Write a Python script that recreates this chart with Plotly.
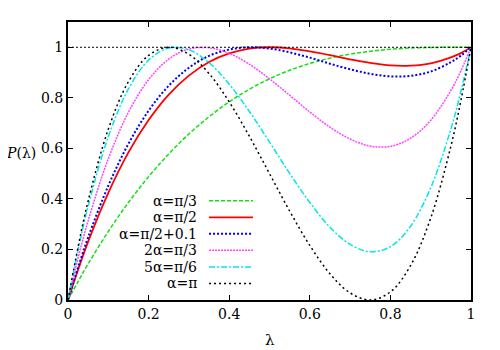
import plotly.graph_objects as go

# lambda grid and P(lambda) values
lam = [0, 0.025, 0.05, 0.1, 0.15, 0.2, 0.25, 0.3, 0.35, 0.4, 0.45, 0.5,
       0.55, 0.6, 0.65, 0.7, 0.75, 0.8, 0.85, 0.9, 0.95, 0.975, 1]

p_pi3 = [0, 0.073, 0.143, 0.271, 0.386, 0.488, 0.578, 0.657, 0.725, 0.784, 0.834, 0.875,
         0.909, 0.936, 0.957, 0.973, 0.984, 0.992, 0.997, 0.999, 1.0, 1.0, 1.0]
p_pi2 = [0, 0.120, 0.231, 0.424, 0.584, 0.712, 0.813, 0.888, 0.942, 0.976, 0.995, 1.0,
         0.996, 0.984, 0.969, 0.952, 0.938, 0.928, 0.927, 0.936, 0.960, 0.977, 1.0]
p_pi2b = [0, 0.129, 0.248, 0.452, 0.618, 0.749, 0.848, 0.919, 0.966, 0.991, 1.0, 0.995,
          0.980, 0.959, 0.935, 0.913, 0.895, 0.885, 0.887, 0.904, 0.941, 0.967, 1.0]
p_2pi3 = [0, 0.166, 0.314, 0.559, 0.743, 0.872, 0.953, 0.993, 0.998, 0.976, 0.933, 0.875,
          0.810, 0.744, 0.684, 0.637, 0.609, 0.608, 0.640, 0.711, 0.829, 0.907, 1.0]
p_5pi6 = [0, 0.198, 0.372, 0.646, 0.835, 0.949, 0.997, 0.990, 0.939, 0.854, 0.746, 0.625,
          0.501, 0.386, 0.288, 0.220, 0.191, 0.211, 0.292, 0.444, 0.676, 0.826, 1.0]
p_pi = [0, 0.210, 0.392, 0.676, 0.864, 0.968, 1.0, 0.972, 0.896, 0.784, 0.648, 0.500,
        0.352, 0.216, 0.104, 0.028, 0.0, 0.032, 0.136, 0.324, 0.608, 0.790, 1.0]

labels = ['α=π/3', 'α=π/2', 'α=π/2+0.1', '2α=π/3', '5α=π/6', 'α=π']
series = [p_pi3, p_pi2, p_pi2b, p_2pi3, p_5pi6, p_pi]
colors = ['#11e011', '#ff0000', '#0000ee', '#ff44ff', '#00e5e5', '#000000']
dashes = ['4px,2px', 'solid', '2px,2px', '2px,1px', '6px,2px,2px,2px', '2px,3px']
widths = [1.5, 1.8, 2, 1.5, 1.5, 1.5]

xticks = [0, 0.2, 0.4, 0.6, 0.8, 1]
yticks = [0, 0.2, 0.4, 0.6, 0.8, 1]
unity = 1.0

font = 'DejaVu Serif'

fig = go.Figure()

fig.add_hline(y=unity, line=dict(color='black', width=1, dash='2px,2px'))

for lab, ys, c, d, w in zip(labels, series, colors, dashes, widths):
    fig.add_trace(go.Scatter(x=lam, y=ys, mode='lines', name=lab,
                             line=dict(color=c, dash=d, width=w, shape='spline'),
                             showlegend=False))

# gnuplot-style key: right aligned text, sample line on the right
annotations = []
shapes = []
row_y = [0.357, 0.2975, 0.238, 0.1786, 0.119, 0.0596]
for lab, c, d, w, ry in zip(labels, colors, dashes, widths, row_y):
    annotations.append(dict(x=0.325, y=ry, xref='paper', yref='paper', text=lab,
                            showarrow=False, xanchor='right', yanchor='middle',
                            font=dict(family=font, size=14, color='black')))
    shapes.append(dict(type='line', xref='paper', yref='paper', x0=0.35, x1=0.459,
                       y0=ry, y1=ry, line=dict(color=c, dash=d, width=w)))

annotations.append(dict(x=0.5, y=-0.143, xref='paper', yref='paper', text='λ',
                        showarrow=False, xanchor='center', yanchor='middle',
                        font=dict(family=font, size=15, color='black')))
annotations.append(dict(x=-0.075, y=0.53, xref='paper', yref='paper', text='<i>P</i>(λ)',
                        showarrow=False, xanchor='right', yanchor='middle',
                        font=dict(family=font, size=14, color='black')))

# page body has an 8px margin, so the figure is a bit smaller than the window
fig.update_layout(
    width=492, height=342,
    margin=dict(l=60, r=29, t=12, b=50),
    plot_bgcolor='white', paper_bgcolor='white',
    font=dict(family=font, size=14, color='black'),
    annotations=annotations,
)
for s in shapes:
    fig.add_shape(s)

fig.update_xaxes(range=[0, 1], tickvals=xticks, ticktext=['0', '0.2', '0.4', '0.6', '0.8', '1'],
                 showgrid=False, zeroline=False, showline=True, linecolor='black', linewidth=2,
                 mirror='ticks', ticks='inside', ticklen=5, tickcolor='black')
fig.update_yaxes(range=[0, 1.1], tickvals=yticks, ticktext=['0', '0.2', '0.4', '0.6', '0.8', '1'],
                 showgrid=False, zeroline=False, showline=True, linecolor='black', linewidth=2,
                 mirror='ticks', ticks='inside', ticklen=5, tickcolor='black')

fig.write_html("out.html")
